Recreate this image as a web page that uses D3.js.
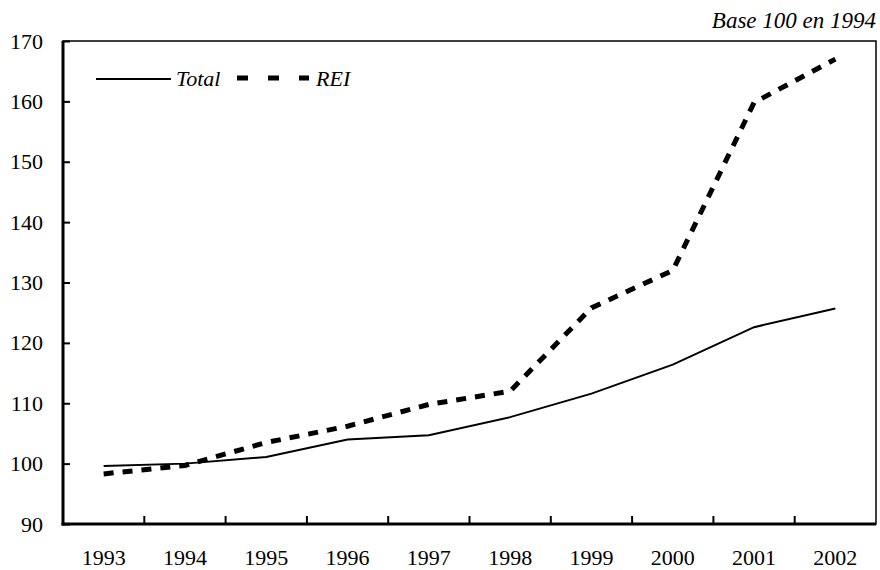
<!DOCTYPE html>
<html><head><meta charset="utf-8">
<script src="https://cdn.jsdelivr.net/npm/d3@7"></script>
<style>body{margin:0;background:#fff}svg{display:block}</style>
</head><body>
<svg id="c" width="880" height="570"></svg>
<script>
const years = ["1993","1994","1995","1996","1997","1998","1999","2000","2001","2002"];
const totalValues = [99.6,100,101.1,104,104.7,107.7,111.6,116.4,122.6,125.7];
const reiValues = [98.3,99.7,103.5,106.2,109.8,112,125.8,132,159.8,167];
const yTicks = [90,100,110,120,130,140,150,160,170];
const seriesNames = ["Total","REI"];

const svg = d3.select("#c");
const font = "'Liberation Serif','Times New Roman',serif";
const fs = 22;
const L=63, R=876, T=41, B=524;
const x = d3.scaleBand().domain(years).range([L,R]);
const y = d3.scaleLinear().domain([90,170]).range([B,T]);

// frame
svg.append("rect").attr("x",L).attr("y",T).attr("width",R-L).attr("height",B-T)
  .attr("fill","none").attr("stroke","#000").attr("stroke-width",1.5);
svg.append("line").attr("x1",L).attr("x2",L).attr("y1",T).attr("y2",B+1.5).attr("stroke","#000").attr("stroke-width",3);
svg.append("line").attr("x1",L-1.5).attr("x2",R).attr("y1",B).attr("y2",B).attr("stroke","#000").attr("stroke-width",3);

// y axis
const ya = svg.append("g").attr("transform",`translate(${L},0)`)
  .call(d3.axisLeft(y).tickValues(yTicks).tickSizeInner(-7).tickSizeOuter(0).tickPadding(20));
ya.select(".domain").remove();
ya.selectAll("line").attr("stroke","#000").attr("stroke-width",2);
ya.selectAll("text").attr("font-family",font).attr("font-size",fs).attr("fill","#000");

// x axis ticks at band boundaries
const xa = svg.append("g").attr("transform",`translate(0,${B})`)
  .call(d3.axisBottom(x).tickSize(0).tickPadding(25));
xa.select(".domain").remove();
xa.selectAll("text").attr("font-family",font).attr("font-size",fs).attr("fill","#000");
svg.append("g").selectAll("line").data(years.slice(1)).join("line")
  .attr("x1",d=>x(d)).attr("x2",d=>x(d)).attr("y1",B).attr("y2",B-8)
  .attr("stroke","#000").attr("stroke-width",2);

const cx = d=>x(d)+x.bandwidth()/2;
const line = d3.line().x(d=>cx(d[0])).y(d=>y(d[1]));
svg.append("path").datum(years.map((d,i)=>[d,totalValues[i]])).attr("d",line)
  .attr("fill","none").attr("stroke","#000").attr("stroke-width",2);
svg.append("path").datum(years.map((d,i)=>[d,reiValues[i]])).attr("d",line)
  .attr("fill","none").attr("stroke","#000").attr("stroke-width",5).attr("stroke-dasharray","10,9");

// legend
svg.append("line").attr("x1",96).attr("x2",171).attr("y1",79).attr("y2",79).attr("stroke","#000").attr("stroke-width",2);
svg.append("text").attr("x",176).attr("y",86).text(seriesNames[0])
  .attr("font-family",font).attr("font-style","italic").attr("font-size",fs);
svg.append("line").attr("x1",237).attr("x2",309).attr("y1",78).attr("y2",78).attr("stroke","#000").attr("stroke-width",5).attr("stroke-dasharray","11,20");
svg.append("text").attr("x",316).attr("y",86).text(seriesNames[1])
  .attr("font-family",font).attr("font-style","italic").attr("font-size",fs);

svg.append("text").attr("x",876).attr("y",28).attr("text-anchor","end").text("Base 100 en 1994")
  .attr("font-family",font).attr("font-style","italic").attr("font-size",23);
</script>
</body></html>
